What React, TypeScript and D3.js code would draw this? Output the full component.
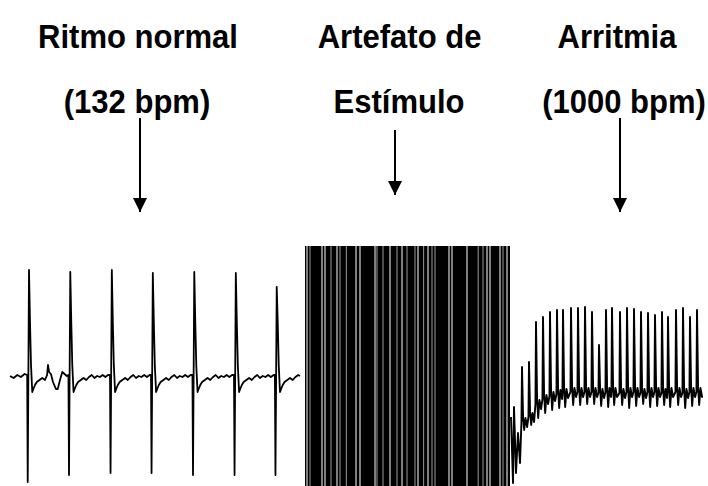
import * as d3 from 'd3'

// normal rhythm: spike times (ms) and extremes (mV)
const normalBeats = [195, 649, 1106, 1557, 2013, 2470, 2920]
const normalTop = [1.07, 1.05, 1.07, 1.04, 1.05, 1.04, 0.9]
const normalBottom = [-1.05, -0.98, -0.96, -0.96, -0.98, -0.98, -0.98]
// repolarisation shape after each spike: [ms offset, mV]
const beatTail = [
  [25, 0.55], [36, 0.12], [50, -0.15], [62, -0.12], [80, -0.08], [100, -0.05], [130, -0.03],
  [160, -0.01], [190, -0.03], [220, 0.0], [250, 0.02], [280, -0.01], [310, 0.01], [340, 0.0],
  [370, 0.02], [400, 0.0], [430, 0.02],
]
// extra wave between beat 1 and 2
const extraWave = [[408, 0.02], [418, 0.12], [430, 0.05], [450, 0.03], [473, -0.05], [505, -0.12], [525, -0.12], [550, -0.03], [575, 0.05], [600, 0.03], [625, 0.01]]
const normalEnd = 3190

// stimulus artefact block and light gaps inside it
const artefactSpan = [3245, 5500]
const artefactLevels = [1.31, -1.12]
const gapTimes = [
  3267, 3300, 3432, 3465, 3531, 3597, 3630, 3700, 3806, 3850, 4015, 4037, 4103, 4180, 4257,
  4312, 4367, 4455, 4488, 4550, 4598, 4642, 4675, 4829, 4862, 5027, 5150, 5203, 5247, 5280,
  5390, 5423, 5467,
]
const gapShade = [
  1, 0.6, 1, 1, 0.6, 1, 0.6, 0.6, 1, 1, 1, 0.6, 0.6, 1, 0.6,
  1, 0.6, 0.6, 1, 0.6, 1, 0.6, 0.6, 1, 1, 1, 0.6, 0.6, 1, 1,
  1, 0.6, 1,
]

// arrhythmia: onset excursions then fast spikes
const onset = [[5511, -0.4], [5533, -1.06], [5544, -0.3], [5566, -0.96], [5588, -0.56], [5610, -0.86]]
const arrTimes = [
  5632, 5709, 5786, 5863, 5940, 6017, 6083, 6171, 6248, 6325, 6402, 6479, 6556,
  6622, 6710, 6787, 6864, 6941, 7018, 7095, 7172, 7238, 7326, 7403, 7480, 7557,
]
const arrTop = [
  0.1, 0.15, 0.55, 0.6, 0.65, 0.67, 0.67, 0.69, 0.69, 0.7, 0.65, 0.32, 0.67,
  0.69, 0.65, 0.69, 0.68, 0.65, 0.64, 0.62, 0.65, 0.6, 0.67, 0.69, 0.6, 0.67,
]
const arrTrough = [
  -0.53, -0.48, -0.41, -0.36, -0.33, -0.31, -0.3, -0.28, -0.28, -0.27, -0.27, -0.29, -0.3,
  -0.28, -0.28, -0.31, -0.29, -0.27, -0.3, -0.29, -0.28, -0.3, -0.28, -0.31, -0.29, -0.28,
]
const arrBase = [
  -0.45, -0.4, -0.27, -0.22, -0.19, -0.17, -0.16, -0.15, -0.15, -0.15, -0.15, -0.16, -0.15,
  -0.15, -0.16, -0.15, -0.15, -0.16, -0.15, -0.15, -0.16, -0.15, -0.15, -0.16, -0.15, -0.15,
]
const arrEnd = 7590

const labelTop = ['Ritmo normal', 'Artefato de', 'Arritmia']
const labelBottom = ['(132 bpm)', 'Estímulo', '(1000 bpm)']
const labelTopTimes = [1408, 4285, 6677]
const labelBottomTimes = [1397, 4279, 6754]
const arrowTimes = [1430, 4235, 6710]

const W = 708
const H = 486

export default function App() {
  const x = d3.scaleLinear().domain([0, 7612]).range([10, 702])
  const y = d3.scaleLinear().domain([-1, 1]).range([477, 277])
  const line = d3.line<number[]>().x((d) => x(d[0])).y((d) => y(d[1]))

  // normal trace
  const normal: number[][] = [[0, 0.01], [40, -0.01], [80, 0.02], [120, 0.0], [160, 0.03]]
  normalBeats.forEach((t, i) => {
    normal.push([t - 6, 0.02], [t, normalBottom[i]], [t + 14, normalTop[i]])
    const next = normalBeats[i + 1] ?? normalEnd
    beatTail.forEach(([dt, v]) => {
      const tt = t + dt
      if (i === 0 && tt > 400) return
      if (tt < next - 8) normal.push([tt, v])
    })
    if (i === 0) extraWave.forEach((p) => normal.push(p))
  })
  normal.push([normalEnd, 0.01])
  normal.sort((a, b) => a[0] - b[0])

  // arrhythmia trace
  const arr: number[][] = onset.map((p) => [...p])
  arrTimes.forEach((t, i) => {
    const b = arrBase[i]
    arr.push([t - 6, b], [t, arrTop[i]], [t + 12, b + 0.05], [t + 24, arrTrough[i]], [t + 38, b + 0.04], [t + 56, b - 0.05])
  })
  arr.push([arrEnd, arrBase[arrBase.length - 1]])

  const font = '"Liberation Sans", Arial, Helvetica, sans-serif'

  return (
    <svg width={W} height={H} style={{ position: 'absolute', left: 0, top: 0, background: '#fff' }}>
      <defs>
        <marker id="head" viewBox="0 0 10 10" refX="10" refY="5" markerWidth="14" markerHeight="16" markerUnits="userSpaceOnUse" orient="auto">
          <path d="M0,0 L10,5 L0,10 z" fill="#000" />
        </marker>
      </defs>
      {labelTop.map((s, i) => (
        <g key={s} fontFamily={font} fontWeight="bold" fontSize={33} textAnchor="middle" fill="#000">
          <text transform={`translate(${x(labelTopTimes[i])},48) scale(0.94,1)`}>{s}</text>
          <text transform={`translate(${x(labelBottomTimes[i])},113) scale(0.94,1)`}>{labelBottom[i]}</text>
        </g>
      ))}
      {arrowTimes.map((t, i) => (
        <line key={t} x1={x(t)} x2={x(t)} y1={i === 1 ? 130 : 118} y2={i === 1 ? 195 : 212}
          stroke="#000" strokeWidth={2} markerEnd="url(#head)" />
      ))}
      <path d={line(normal) ?? ''} fill="none" stroke="#000" strokeWidth={1.8} strokeLinejoin="round" />
      <rect x={x(artefactSpan[0])} y={y(artefactLevels[0])}
        width={x(artefactSpan[1]) - x(artefactSpan[0])} height={y(artefactLevels[1]) - y(artefactLevels[0])} fill="#000" />
      {gapTimes.map((t, i) => (
        <line key={t} x1={x(t)} x2={x(t)} y1={y(artefactLevels[0])} y2={y(artefactLevels[1])}
          stroke={gapShade[i] === 1 ? '#fff' : '#999'} strokeWidth={1} />
      ))}
      <path d={line(arr) ?? ''} fill="none" stroke="#000" strokeWidth={1.9} strokeLinejoin="round" />
    </svg>
  )
}
